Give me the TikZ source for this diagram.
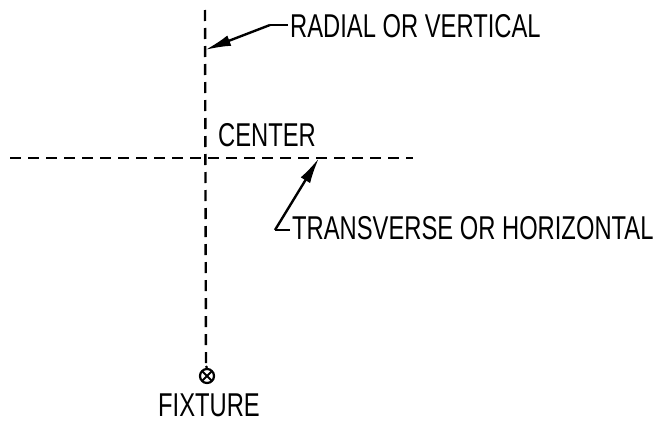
\documentclass[tikz,border=0pt]{standalone}
\usepackage{fontspec}
\newfontfamily\lblfont{Liberation Sans}[FakeStretch=0.72]
\usetikzlibrary{arrows.meta}
\tikzset{
  centerline/.style={line width=2.4pt, dash pattern=on 11pt off 7pt},
  leader/.style={line width=2.4pt, -{Latex[length=26pt,width=11pt]}},
  lbl/.style={inner sep=0pt, anchor=base west},
  fixturesym/.style={circle, draw, line width=2.2pt, minimum size=14pt, inner sep=0pt, path picture={
      \draw[line width=1.8pt] (path picture bounding box.south west) -- (path picture bounding box.north east)
        (path picture bounding box.north west) -- (path picture bounding box.south east);}}
}
\newcommand{\lt}[1]{\lblfont\fontsize{33}{35}\selectfont #1}
\begin{document}
\begin{tikzpicture}[x=1pt,y=-1pt]
\useasboundingbox (0,0) rectangle (661,423);
\coordinate (vtop) at (205,10);
\coordinate (vbot) at (206,366);
\coordinate (hl) at (10,158);
\coordinate (hr) at (413,158);
\node[fixturesym] (fix) at (207,376) {};
\draw[centerline] (vtop) -- (vbot);
\draw[line width=2.2pt] (vbot) -- (fix.north);
\draw[centerline] (hl) -- (hr);
\node[lbl, anchor=base] (fixlbl) at (209,416) {\lt{FIXTURE}};
\node[lbl] (ctr) at (218,146) {\lt{CENTER}};
\node[lbl] (rad) at (290,37) {\lt{RADIAL OR VERTICAL}};
\node[lbl] (trans) at (292,239) {\lt{TRANSVERSE OR HORIZONTAL}};
\coordinate (radtip) at (205,50);
\coordinate (radknee) at (270,25);
\coordinate (radend) at (288,25);
\coordinate (trtip) at (319,158);
\coordinate (trknee) at (275,230);
\coordinate (trend) at (290,230);
\draw[line width=2.2pt] (radend) -- (radknee);
\draw[leader] (radknee) -- (radtip);
\draw[line width=2.2pt] (trend) -- (trknee);
\draw[leader] (trknee) -- (trtip);
\end{tikzpicture}
\end{document}
